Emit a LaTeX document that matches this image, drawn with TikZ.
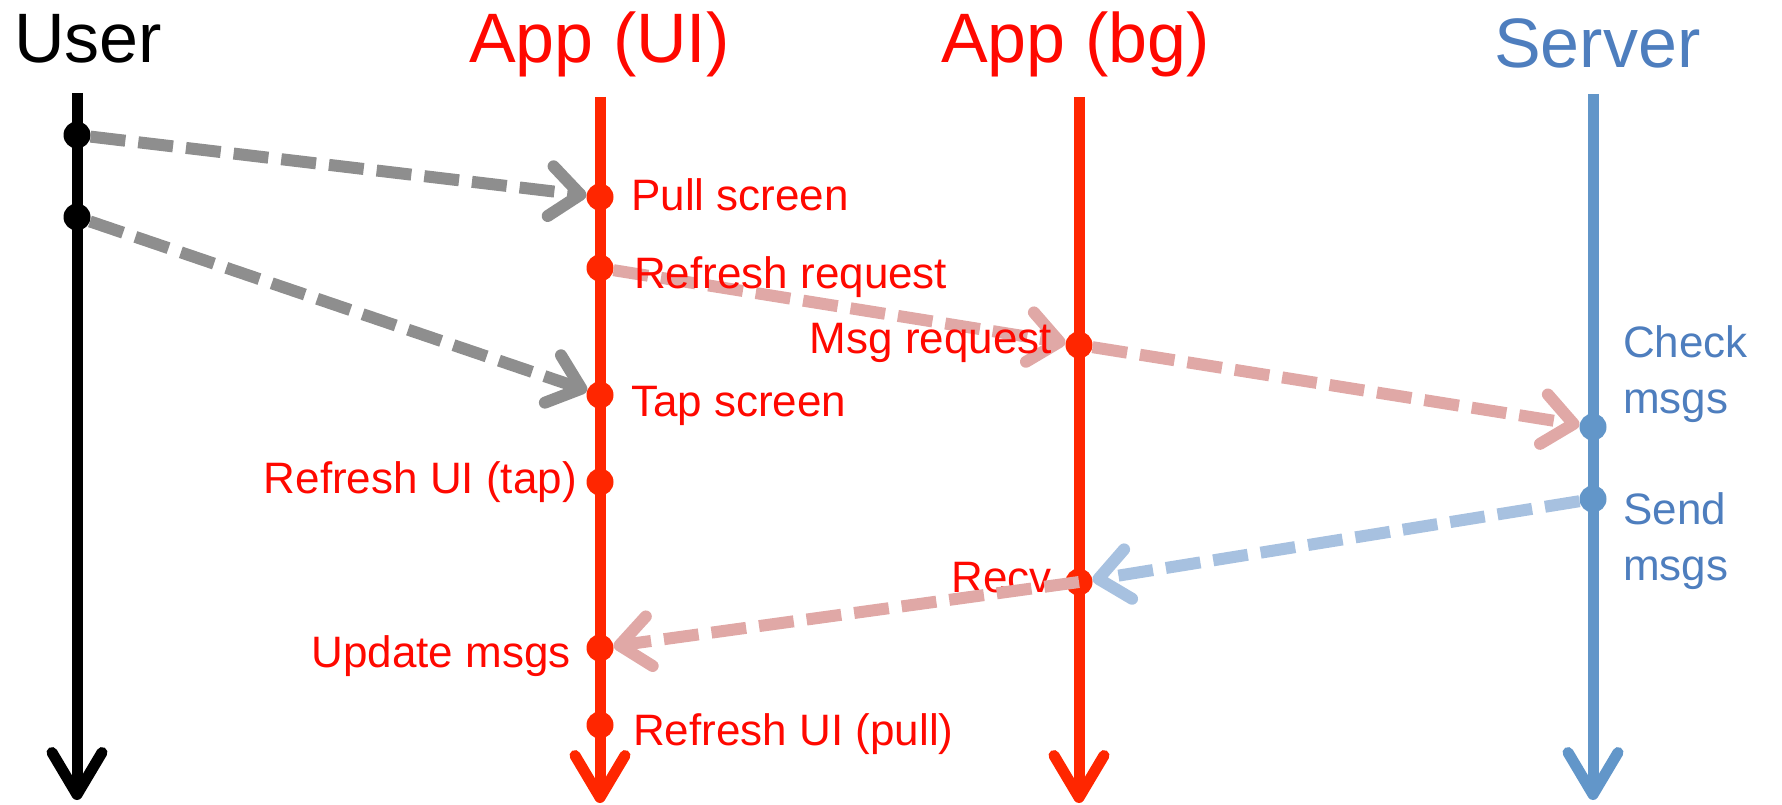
\documentclass[tikz,border=0pt]{standalone}
\usepackage{fontspec}
\setmainfont{Liberation Sans}
\usetikzlibrary{arrows.meta}
\definecolor{appred}{RGB}{255,38,0}
\definecolor{apptext}{RGB}{255,8,0}
\definecolor{srvblue}{RGB}{98,150,201}
\definecolor{srvtext}{RGB}{78,126,190}
\definecolor{msggray}{RGB}{142,142,142}
\definecolor{msgpink}{RGB}{224,168,166}
\definecolor{msgblue}{RGB}{167,193,224}
\begin{document}
\begin{tikzpicture}[x=1pt,y=-1pt,
  life/.style={line width=11pt,-{Straight Barb[length=42pt,width=50pt,round]}},
  msg/.style={line width=12pt,dash pattern=on 35pt off 13pt,-{Straight Barb[length=30pt,width=50pt,round]}},
  dot/.style={circle,fill,inner sep=0pt,minimum size=27pt},
  title/.style={inner sep=0pt,font=\fontsize{70}{80}\selectfont},
  lbl/.style={inner sep=0pt,font=\fontsize{44}{56}\selectfont,text=apptext},
  slbl/.style={inner sep=0pt,font=\fontsize{44}{56}\selectfont,text=srvtext,align=left},
]
\useasboundingbox (0,0) rectangle (1782,805);

% titles
\node[title,anchor=base west] (tuser) at (14,63) {User};
\node[title,anchor=base west,text=apptext] (tui) at (469,63) {App (UI)};
\node[title,anchor=base west,text=apptext] (tbg) at (941,63) {App (bg)};
\node[title,anchor=base west,text=srvtext] (tsrv) at (1494,68) {Server};

% lifelines
\coordinate (utop) at (77,93);   \coordinate (ubot) at (77,800);
\coordinate (atop) at (600,97);  \coordinate (abot) at (600,803);
\coordinate (btop) at (1079,97); \coordinate (bbot) at (1079,803);
\coordinate (stop) at (1593,94); \coordinate (sbot) at (1593,800);
\draw[life,black] (utop) -- (ubot);
\draw[life,appred] (atop) -- (abot);
\draw[life,appred] (btop) -- (bbot);
\draw[life,srvblue] (stop) -- (sbot);

% event dots
\node[dot,black] (u1) at (77,135) {};
\node[dot,black] (u2) at (77,217) {};
\node[dot,appred] (a1) at (600,197) {};
\node[dot,appred] (a2) at (600,268) {};
\node[dot,appred] (a3) at (600,395) {};
\node[dot,appred] (a4) at (600,482) {};
\node[dot,appred] (a5) at (600,648) {};
\node[dot,appred] (a6) at (600,725) {};
\node[dot,appred] (b1) at (1079,345) {};
\node[dot,appred] (b2) at (1079,582) {};
\node[dot,srvblue] (s1) at (1593,427) {};
\node[dot,srvblue] (s2) at (1593,499) {};

% Recv label (under its connector)
\node[lbl,anchor=base east] (lrecv) at (1052,592) {Recv};

% messages
\draw[msg,msggray] (u1) -- (a1);
\draw[msg,msggray] (u2) -- (a3);
\draw[msg,msgpink] (a2) -- (b1);
\draw[msg,msgpink] (b1) -- (s1);
\draw[msg,msgblue] (s2) -- (b2);
\draw[msg,msgpink] (b2.center) -- (a5);

% labels
\node[lbl,anchor=base west] (lpull) at (631,211) {Pull screen};
\node[lbl,anchor=base west] (lreq) at (634,288) {Refresh request};
\node[lbl,anchor=base east] (lmsg) at (1052,353) {Msg request};
\node[lbl,anchor=base west] (ltap) at (631,416) {Tap screen};
\node[lbl,anchor=base east] (lrtap) at (577,493) {Refresh UI (tap)};
\node[lbl,anchor=base east] (lupd) at (571,667) {Update msgs};
\node[lbl,anchor=base west] (lrpull) at (633,745) {Refresh UI (pull)};
\node[slbl,anchor=base west] (lcheck) at (1623,413) {Check\\msgs};
\node[slbl,anchor=base west] (lsend) at (1623,580) {Send\\msgs};
\end{tikzpicture}
\end{document}
